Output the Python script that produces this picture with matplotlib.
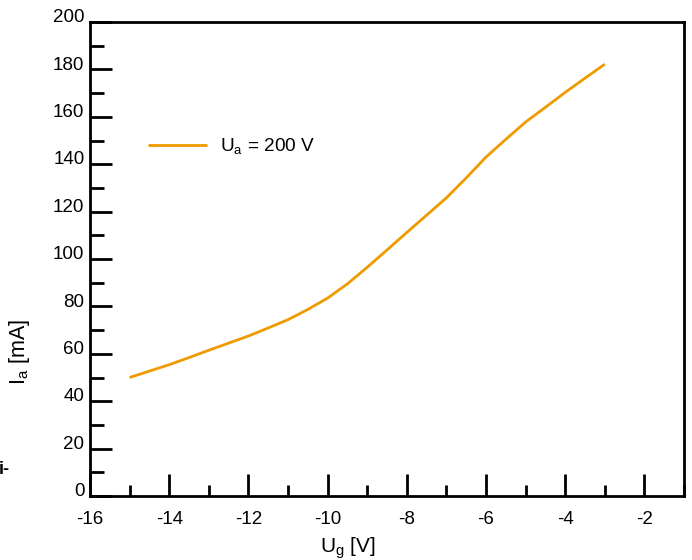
import matplotlib
matplotlib.use("Agg")
import matplotlib.pyplot as plt
from matplotlib.transforms import ScaledTranslation
from matplotlib.ticker import MultipleLocator

# Data
ug = [-15, -14.5, -14, -13.5, -13, -12.5, -12, -11.5, -11, -10.5, -10, -9.5, -9,
      -8.5, -8, -7.5, -7, -6.5, -6, -5.5, -5, -4.5, -4, -3.5, -3]
ia = [50.0, 52.7, 55.4, 58.4, 61.5, 64.5, 67.5, 70.9, 74.4, 78.7, 83.5, 89.5, 96.5,
      103.8, 111.2, 118.5, 125.8, 134.2, 143.0, 150.5, 157.8, 164.0, 170.3, 176.3, 182.2]
series_label = r"$\mathregular{U_a}$ = 200 V"
x_major = [-16, -14, -12, -10, -8, -6, -4, -2]
y_major = [0, 20, 40, 60, 80, 100, 120, 140, 160, 180, 200]

plt.rcParams['font.family'] = ['Liberation Sans', 'DejaVu Sans']
plt.rcParams['mathtext.fontset'] = 'custom'
plt.rcParams['mathtext.rm'] = 'Liberation Sans'
plt.rcParams['axes.unicode_minus'] = False

fig = plt.figure(figsize=(6.92, 5.6), dpi=100)
ax = fig.add_axes([90/692, 64/560, 594/692, 474/560])

ax.plot(ug, ia, color='#ef9b00', lw=2.0, label=series_label,
        solid_capstyle='butt', solid_joinstyle='round')

ax.set_xlim(-16, -1)
ax.set_ylim(0, 200)
ax.set_xticks(x_major)
ax.set_yticks(y_major)
ax.xaxis.set_minor_locator(MultipleLocator(1))
ax.yaxis.set_minor_locator(MultipleLocator(10))

for s in ax.spines.values():
    s.set_linewidth(2.0)

ax.tick_params(axis='both', which='both', direction='in', width=2.0, labelsize=13.5)
ax.tick_params(axis='x', which='major', length=16, pad=11, top=False)
ax.tick_params(axis='x', which='minor', length=8, top=False)
ax.tick_params(axis='y', which='major', length=16, pad=4, right=False)
ax.tick_params(axis='y', which='minor', length=10, right=False)

fig.canvas.draw()
off = ScaledTranslation(0, 4.5/72, fig.dpi_scale_trans)
for lab in ax.get_yticklabels():
    lab.set_transform(lab.get_transform() + off)

ax.set_xlabel(r"$\mathregular{U_g}$ [V]", fontsize=15)
ax.set_ylabel(r"$\mathregular{I_a}$ [mA]", fontsize=15.5)
ax.xaxis.set_label_coords(0.434, -0.11)
ax.yaxis.set_label_coords(-0.118, 0.304)
ax.xaxis.label.set_va('center')
ax.yaxis.label.set_va('center')

ax.legend(loc='center left', bbox_to_anchor=(0.098, 0.738), frameon=False,
          fontsize=13.7, handlelength=3.1, handletextpad=0.65, borderpad=0, borderaxespad=0)

fig.text(-0.002, 1 - 470/560, 'i-', fontsize=13, fontweight='bold', va='center', ha='left')

fig.savefig('out.png', dpi=100)
